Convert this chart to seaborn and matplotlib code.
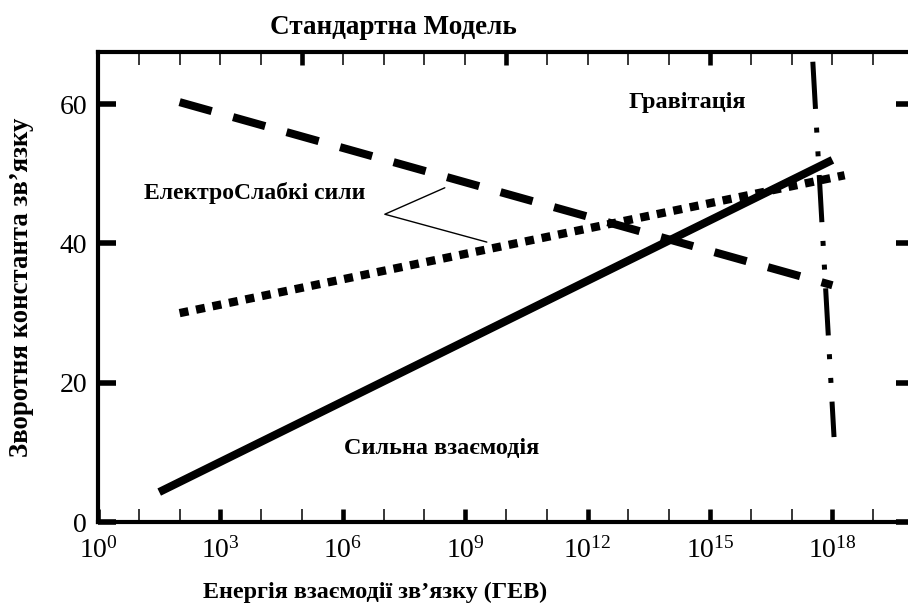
import numpy as np
import pandas as pd
import matplotlib
matplotlib.use("Agg")
import matplotlib.pyplot as plt
import seaborn as sns
from matplotlib.ticker import FixedLocator, NullFormatter, FixedFormatter

# ---------------- data ----------------
strong_energy = [10 ** 1.5, 10 ** 18.0]
strong_inv = [4.3, 52.0]

em_energy = [10 ** 2.0, 10 ** 18.0]
em_inv = [60.3, 34.0]

weak_energy = [10 ** 2.0, 10 ** 18.3]
weak_inv = [30.0, 49.8]

grav_energy = [10 ** 17.52, 10 ** 18.04]
grav_inv = [66.1, 12.2]

callout_energy = [10 ** 8.50, 10 ** 7.03, 10 ** 9.53]
callout_inv = [48.0, 44.2, 40.2]

x_major_ticks = [1e0, 1e3, 1e6, 1e9, 1e12, 1e15, 1e18]
x_tick_labels = ["$10^{0}$", "$10^{3}$", "$10^{6}$", "$10^{9}$",
                 "$10^{12}$", "$10^{15}$", "$10^{18}$"]
x_minor_ticks = [1e1, 1e2, 1e4, 1e5, 1e7, 1e8, 1e10, 1e11, 1e13, 1e14,
                 1e16, 1e17, 1e19]
top_major_ticks = [1e5, 1e10, 1e15, 1e20]
top_minor_ticks = [1e1, 1e2, 1e3, 1e4, 1e6, 1e7, 1e8, 1e9, 1e11, 1e12,
                   1e13, 1e14, 1e16, 1e17, 1e18, 1e19]
y_ticks = [0, 20, 40, 60]
y_tick_labels = ["0", "20", "40", "60"]

title_text = "Стандартна Модель"
xlabel_text = "Енергія взаємодії зв\u2019язку (ГЕВ)"
ylabel_text = "Зворотня константа зв\u2019язку"
label_gravity = "Гравітація"
label_ew = "ЕлектроСлабкі сили"
label_strong = "Сильна взаємодія"

# ---------------- style ----------------
sns.set_theme(style="white")
plt.rcParams["font.family"] = ["Liberation Serif", "DejaVu Serif"]
plt.rcParams["mathtext.fontset"] = "custom"
plt.rcParams["mathtext.rm"] = "Liberation Serif"
plt.rcParams["mathtext.it"] = "Liberation Serif:italic"
plt.rcParams["mathtext.bf"] = "Liberation Serif:bold"
plt.rcParams["lines.scale_dashes"] = False

W, H = 908, 603
fig = plt.figure(figsize=(W / 100, H / 100), dpi=100)
fig.patch.set_facecolor("white")
ax = fig.add_axes([98 / W, (H - 522) / H, 816 / W, 470 / H])
ax.set_facecolor("white")

def draw(xv, yv, lw, dashes=None):
    df = pd.DataFrame({"x": xv, "y": yv})
    n0 = len(ax.lines)
    sns.lineplot(data=df, x="x", y="y", ax=ax, color="black", linewidth=lw,
                 sort=False, estimator=None)
    ln = ax.lines[n0]
    ln.set_solid_capstyle("butt")
    ln.set_dash_capstyle("butt")
    if dashes is not None:
        ln.set_dashes(dashes)
    return ln

# strong (solid)
draw(strong_energy, strong_inv, 5.8)
# electromagnetic (long dashes)
draw(em_energy, em_inv, 5.8, (24, 16))
# weak (dotted)
draw(weak_energy, weak_inv, 6.0, (6.5, 5.6))
# gravity (dash-dot-dot)
draw(grav_energy, grav_inv, 3.6, (34, 13.5, 3.6, 13.5, 3.6, 13.5))

# callout lines
ax.plot(callout_energy, callout_inv, color="black", linewidth=1.0)

ax.set_xscale("log")
ax.set_xlim(1e0, 1e20)
ax.set_ylim(0, 67.5)

ax.xaxis.set_major_locator(FixedLocator(x_major_ticks))
ax.xaxis.set_major_formatter(FixedFormatter(x_tick_labels))
ax.xaxis.set_minor_locator(FixedLocator(x_minor_ticks))
ax.xaxis.set_minor_formatter(NullFormatter())
ax.yaxis.set_major_locator(FixedLocator(y_ticks))
ax.yaxis.set_major_formatter(FixedFormatter(y_tick_labels))

ax.tick_params(axis="x", which="major", direction="in", length=9.5, width=3.3,
               bottom=True, top=False, labelsize=20, pad=11, color="black",
               labelcolor="black")
ax.tick_params(axis="x", which="minor", direction="in", length=9.5, width=1.1,
               bottom=True, top=False, color="black")
ax.tick_params(axis="y", which="major", direction="in", length=13, width=4.0,
               left=True, right=True, labelsize=20, pad=8, color="black",
               labelcolor="black")
ax.set_xlabel("")
ax.set_ylabel("")

for side in ["left", "top", "bottom", "right"]:
    ax.spines[side].set_visible(True)
    ax.spines[side].set_color("black")
    ax.spines[side].set_linewidth(3.0)

# top axis ticks
ax2 = ax.twiny()
ax2.set_xscale("log")
ax2.set_xlim(ax.get_xlim())
ax2.xaxis.set_major_locator(FixedLocator(top_major_ticks))
ax2.xaxis.set_minor_locator(FixedLocator(top_minor_ticks))
ax2.xaxis.set_major_formatter(NullFormatter())
ax2.xaxis.set_minor_formatter(NullFormatter())
ax2.tick_params(axis="x", which="major", direction="in", length=9.5, width=3.3,
                top=True, bottom=False, labeltop=False, color="black")
ax2.tick_params(axis="x", which="minor", direction="in", length=9.5, width=1.1,
                top=True, bottom=False, color="black")
for side in ["left", "top", "bottom", "right"]:
    ax2.spines[side].set_visible(False)

# labels inside the plot
ax.text(10 ** 14.45, 60.3, label_gravity, fontsize=17.5, fontweight="bold",
        ha="center", va="center", color="black")
ax.text(10 ** 3.85, 47.2, label_ew, fontsize=17, fontweight="bold",
        ha="center", va="center", color="black")
ax.text(10 ** 8.41, 10.6, label_strong, fontsize=17.5, fontweight="bold",
        ha="center", va="center", color="black")

# titles
fig.text(393 / W, 1 - 27 / H, title_text, fontsize=19.5, fontweight="bold",
         ha="center", va="center", color="black")
fig.text(375 / W, 1 - 592 / H, xlabel_text, fontsize=17.4, fontweight="bold",
         ha="center", va="center", color="black")
fig.text(22 / W, 1 - 287 / H, ylabel_text, fontsize=19.3, fontweight="bold",
         ha="center", va="center", rotation=90, color="black")

fig.savefig("out.png", dpi=100, facecolor="white")
